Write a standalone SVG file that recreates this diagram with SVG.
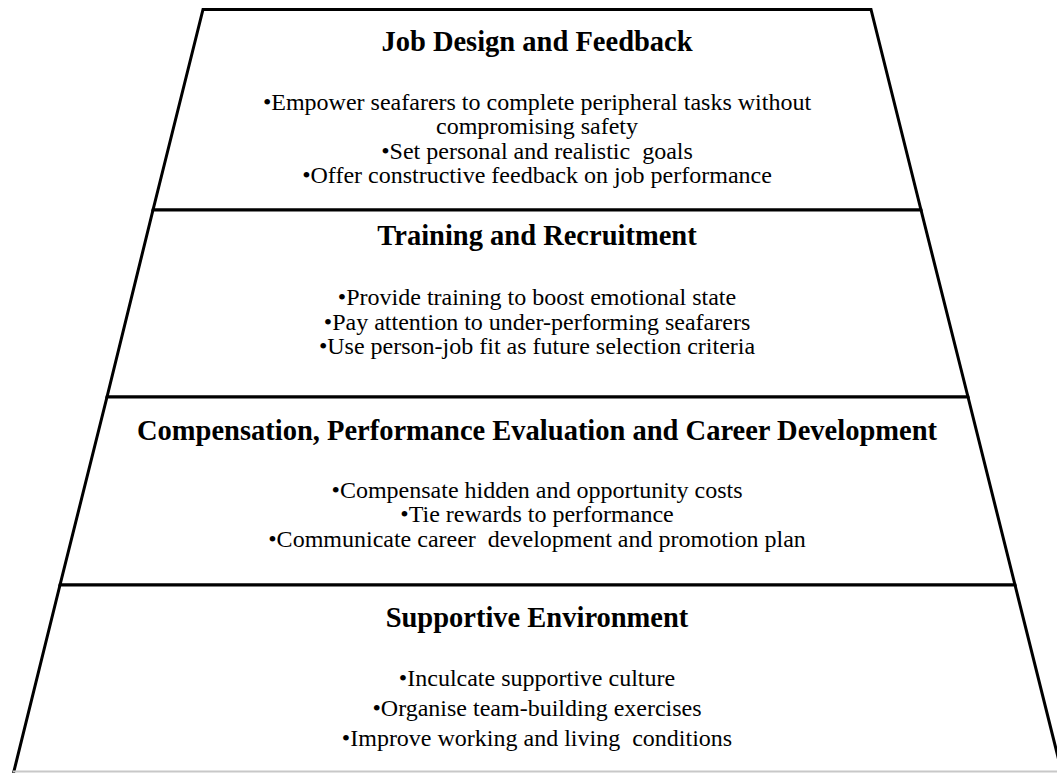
<svg xmlns="http://www.w3.org/2000/svg" width="1057" height="773" viewBox="0 0 1057 773">
  <style>
    .tier { fill: #ffffff; stroke: #000000; stroke-width: 3; stroke-linejoin: miter; }
    .title { font-family: "Liberation Serif", "Times New Roman", serif; font-weight: bold; font-size: 28.5px; fill: #000000; text-anchor: middle; }
    .item { font-family: "Liberation Serif", "Times New Roman", serif; font-size: 24px; fill: #000000; text-anchor: middle; white-space: pre; }
  </style>
  <rect x="0" y="0" width="1057" height="773" fill="#ffffff"/>

  <!-- Tier 1: top of the pyramid -->
  <g id="job-design">
    <path class="tier" d="M203,9.5 L871,9.5 L921,210 L153,210 Z"/>
    <text class="title" x="537" y="51">Job Design and Feedback</text>
    <text class="item" x="537" y="110">•Empower seafarers to complete peripheral tasks without</text>
    <text class="item" x="537" y="134">compromising safety</text>
    <text class="item" x="537" y="159" xml:space="preserve">•Set personal and realistic  goals</text>
    <text class="item" x="537" y="183">•Offer constructive feedback on job performance</text>
  </g>

  <!-- Tier 2 -->
  <g id="training">
    <path class="tier" d="M153,210 L921,210 L968,397 L107,397 Z"/>
    <text class="title" x="537" y="245">Training and Recruitment</text>
    <text class="item" x="537" y="305">•Provide training to boost emotional state</text>
    <text class="item" x="537" y="330">•Pay attention to under-performing seafarers</text>
    <text class="item" x="537" y="354">•Use person-job fit as future selection criteria</text>
  </g>

  <!-- Tier 3 -->
  <g id="compensation">
    <path class="tier" d="M107,397 L968,397 L1015,585 L60,585 Z"/>
    <text class="title" x="537" y="440">Compensation, Performance Evaluation and Career Development</text>
    <text class="item" x="537" y="498">•Compensate hidden and opportunity costs</text>
    <text class="item" x="537" y="522">•Tie rewards to performance</text>
    <text class="item" x="537" y="547" xml:space="preserve">•Communicate career  development and promotion plan</text>
  </g>

  <!-- Tier 4: base of the pyramid, open at the bottom edge -->
  <g id="supportive-environment">
    <path class="tier" d="M13.5,773 L60,585 L1015,585 L1062,773"/>
    <text class="title" x="537" y="627">Supportive Environment</text>
    <text class="item" x="537" y="686">•Inculcate supportive culture</text>
    <text class="item" x="537" y="716">•Organise team-building exercises</text>
    <text class="item" x="537" y="746" xml:space="preserve">•Improve working and living  conditions</text>
  </g>

  <!-- base line along the lower border -->
  <line x1="13" y1="771.5" x2="1057" y2="771.5" stroke="#c8c8c8" stroke-width="2"/>

  <g id="connectors"/>
</svg>
